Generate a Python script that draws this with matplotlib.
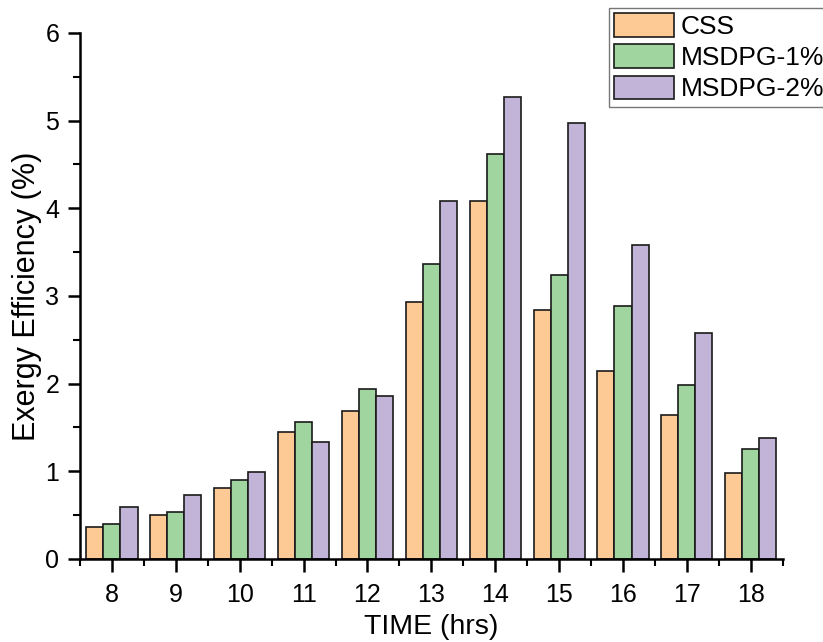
import numpy as np
import matplotlib
matplotlib.use("Agg")
import matplotlib.pyplot as plt
from matplotlib.ticker import MultipleLocator

plt.rcParams['font.family'] = ['Liberation Sans', 'DejaVu Sans']

hours = [8, 9, 10, 11, 12, 13, 14, 15, 16, 17, 18]
css = [0.36, 0.50, 0.81, 1.45, 1.69, 2.93, 4.08, 2.84, 2.15, 1.64, 0.98]
msdpg1 = [0.40, 0.54, 0.90, 1.56, 1.94, 3.37, 4.62, 3.24, 2.89, 1.98, 1.26]
msdpg2 = [0.59, 0.73, 0.99, 1.34, 1.86, 4.08, 5.27, 4.97, 3.58, 2.58, 1.38]
labels = ['CSS', 'MSDPG-1%', 'MSDPG-2%']
colors = ['#FDC994', '#A0D5A0', '#C2B3D9']

fig = plt.figure(figsize=(8.23, 6.42), dpi=100)
ax = fig.add_axes([0.0972, 0.1293, 0.8538, 0.8193])

x = np.array(hours, dtype=float)
w = 0.267
for i, (vals, lab, col) in enumerate(zip([css, msdpg1, msdpg2], labels, colors)):
    ax.bar(x + (i - 1) * w, vals, width=w, color=col, edgecolor='#1a1a1a',
           linewidth=1.2, label=lab, zorder=2)

ax.set_xlim(7.5, 18.5)
ax.set_ylim(0, 6)
ax.set_xticks(hours)
ax.xaxis.set_minor_locator(MultipleLocator(1, offset=0.5))
ax.yaxis.set_major_locator(MultipleLocator(1))
ax.yaxis.set_minor_locator(MultipleLocator(0.5))
ax.spines['top'].set_visible(False)
ax.spines['right'].set_visible(False)
for s in ['left', 'bottom']:
    ax.spines[s].set_linewidth(1.8)
ax.tick_params(which='major', direction='out', length=9, width=1.8, labelsize=18, pad=6)
ax.tick_params(axis='x', which='major', pad=8)
ax.tick_params(which='minor', direction='out', length=5, width=1.5)

ax.set_xlabel('TIME (hrs)', fontsize=20.5, labelpad=5)
ax.set_ylabel('Exergy Efficiency (%)', fontsize=22, labelpad=2)

leg = fig.legend(loc='upper left', bbox_to_anchor=(609 / 823, 1 - 8 / 642),
                 fontsize=19, frameon=True, fancybox=False, edgecolor='#555555',
                 handlelength=2.25, handleheight=1.0, labelspacing=0.2,
                 handletextpad=0.27, borderpad=0.2, borderaxespad=0)
leg.get_frame().set_linewidth(1.0)

fig.savefig('out.png', dpi=100)
